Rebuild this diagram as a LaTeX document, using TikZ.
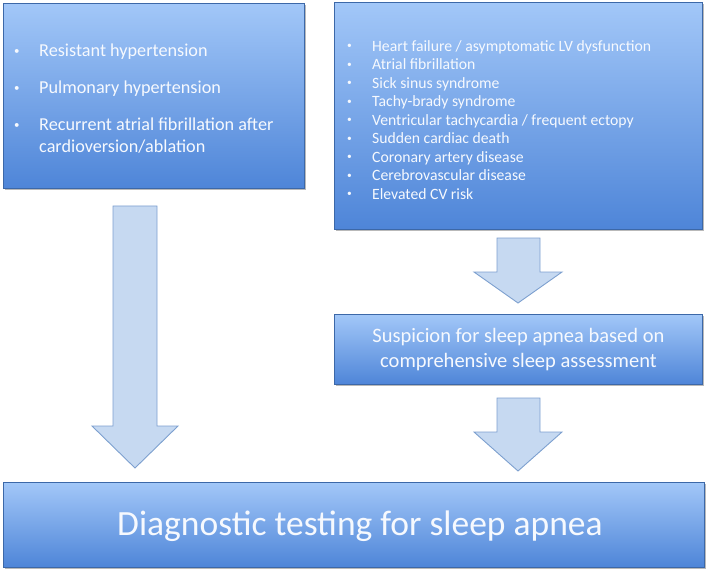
\documentclass[tikz,border=0pt]{standalone}
\usepackage{fontspec}
\setmainfont{Carlito}
\usetikzlibrary{shadows}
\definecolor{boxtop}{RGB}{162,199,248}
\definecolor{boxbot}{RGB}{78,133,216}
\definecolor{boxline}{RGB}{60,104,168}
\definecolor{arrfill}{RGB}{198,217,241}
\definecolor{arrline}{RGB}{125,160,207}
\definecolor{txt}{RGB}{246,249,254}
\newcommand{\bul}{\makebox[25pt][l]{\raisebox{0.15em}{\scalebox{0.6}{•}}}}
\tikzset{
  bluebox/.style={draw=boxline, line width=0.9pt, top color=boxtop, bottom color=boxbot,
    drop shadow={opacity=0.55, shadow xshift=1.8pt, shadow yshift=-1.8pt},
    text=txt, inner sep=0pt, anchor=north west},
  blockarrow/.style={fill=arrfill, draw=arrline, line width=0.9pt, line join=miter},
  x=1pt, y=-1pt
}
\begin{document}
\begin{tikzpicture}
\useasboundingbox (0,0) rectangle (709,572);
% boxes
\node[bluebox, minimum width=301pt, minimum height=185pt] (b1) at (3,3) {};
\node[bluebox, minimum width=368pt, minimum height=227pt] (b2) at (334,2) {};
\node[bluebox, minimum width=368pt, minimum height=70pt] (b3) at (334,314) {};
\node[bluebox, minimum width=701pt, minimum height=85pt] (b4) at (3,482) {};
% texts
\node[text=txt, anchor=north west, align=left, inner sep=0pt, font=\fontsize{18.2}{22}\selectfont] (t1) at (14,44)
 {\bul Resistant hypertension\\[15pt]
  \bul Pulmonary hypertension\\[15pt]
  \bul Recurrent atrial fibrillation after\\
  \hspace*{25pt}cardioversion/ablation};
\node[text=txt, anchor=north west, align=left, inner sep=0pt, font=\fontsize{15.7}{18.5}\selectfont] (t2) at (347,40)
 {\bul Heart failure / asymptomatic LV dysfunction\\
  \bul Atrial fibrillation\\
  \bul Sick sinus syndrome\\
  \bul Tachy-brady syndrome\\
  \bul Ventricular tachycardia / frequent ectopy\\
  \bul Sudden cardiac death\\
  \bul Coronary artery disease\\
  \bul Cerebrovascular disease\\
  \bul Elevated CV risk};
\node[text=txt, align=center, inner sep=0pt, font=\fontsize{20.5}{25}\selectfont] (t3) at (b3.center)
 {Suspicion for sleep apnea based on\\comprehensive sleep assessment};
\node[text=txt, inner sep=0pt, font=\fontsize{35.5}{40}\selectfont] (t4) at ([xshift=6pt,yshift=-1pt]b4.center)
 {Diagnostic testing for sleep apnea};
% block arrows
\draw[blockarrow] (113,206) -- (157,206) -- (157,426) -- (178,426) -- (135,468) -- (92,426) -- (113,426) -- cycle;
\draw[blockarrow] (497,238) -- (540,238) -- (540,272) -- (562,272) -- (518,303) -- (474,272) -- (497,272) -- cycle;
\draw[blockarrow] (497,398) -- (540,398) -- (540,432) -- (562,432) -- (518,471) -- (474,432) -- (497,432) -- cycle;
\end{tikzpicture}
\end{document}
